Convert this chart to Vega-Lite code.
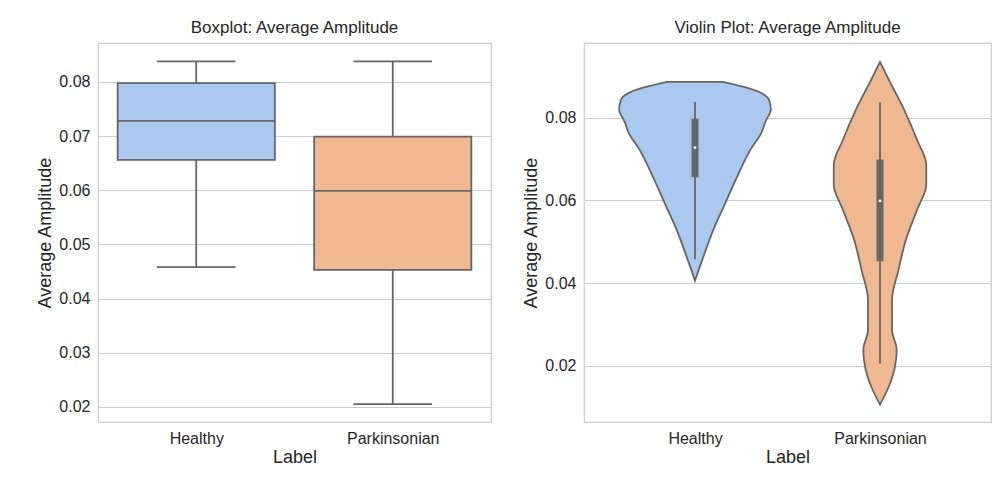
{
  "$schema": "https://vega.github.io/schema/vega-lite/v6.json",
  "padding": {"left": 36, "top": 18, "right": 20, "bottom": 5},
  "spacing": 30,
  "config": {
    "font": "Liberation Sans",
    "view": {"stroke": "#cccccc", "strokeWidth": 1.2},
    "title": {"fontSize": 17, "font": "Liberation Sans", "fontWeight": "normal", "color": "#262626", "offset": 6},
    "axis": {"labelFontSize": 16, "titleFontSize": 18, "titleFontWeight": "normal", "labelColor": "#262626", "titleColor": "#262626", "ticks": false, "domain": false, "gridColor": "#cccccc", "gridWidth": 1.2, "labelPadding": 8}
  },
  "datasets": {
    "stats": [
      {"label": "Healthy", "idx": 0, "min": 0.0458, "q1": 0.0656, "median": 0.0728, "q3": 0.0798, "max": 0.0838},
      {"label": "Parkinsonian", "idx": 1, "min": 0.0205, "q1": 0.0453, "median": 0.0599, "q3": 0.0699, "max": 0.0838}
    ],
    "violin": [
      {"label": "Healthy", "idx": 0, "amp": 0.0406, "w": 0.0},
      {"label": "Healthy", "idx": 0, "amp": 0.0432, "w": 0.02},
      {"label": "Healthy", "idx": 0, "amp": 0.047, "w": 0.05},
      {"label": "Healthy", "idx": 0, "amp": 0.053, "w": 0.1},
      {"label": "Healthy", "idx": 0, "amp": 0.059, "w": 0.16},
      {"label": "Healthy", "idx": 0, "amp": 0.065, "w": 0.22},
      {"label": "Healthy", "idx": 0, "amp": 0.0723, "w": 0.3},
      {"label": "Healthy", "idx": 0, "amp": 0.0765, "w": 0.36},
      {"label": "Healthy", "idx": 0, "amp": 0.079, "w": 0.38},
      {"label": "Healthy", "idx": 0, "amp": 0.082, "w": 0.41},
      {"label": "Healthy", "idx": 0, "amp": 0.0844, "w": 0.4},
      {"label": "Healthy", "idx": 0, "amp": 0.0873, "w": 0.28},
      {"label": "Healthy", "idx": 0, "amp": 0.0887, "w": 0.15},
      {"label": "Parkinsonian", "idx": 1, "amp": 0.0106, "w": 0.0},
      {"label": "Parkinsonian", "idx": 1, "amp": 0.0142, "w": 0.04},
      {"label": "Parkinsonian", "idx": 1, "amp": 0.0178, "w": 0.07},
      {"label": "Parkinsonian", "idx": 1, "amp": 0.0239, "w": 0.09},
      {"label": "Parkinsonian", "idx": 1, "amp": 0.0287, "w": 0.065},
      {"label": "Parkinsonian", "idx": 1, "amp": 0.036, "w": 0.065},
      {"label": "Parkinsonian", "idx": 1, "amp": 0.0432, "w": 0.1},
      {"label": "Parkinsonian", "idx": 1, "amp": 0.0505, "w": 0.14},
      {"label": "Parkinsonian", "idx": 1, "amp": 0.0577, "w": 0.2},
      {"label": "Parkinsonian", "idx": 1, "amp": 0.0638, "w": 0.25},
      {"label": "Parkinsonian", "idx": 1, "amp": 0.0686, "w": 0.25},
      {"label": "Parkinsonian", "idx": 1, "amp": 0.0747, "w": 0.2},
      {"label": "Parkinsonian", "idx": 1, "amp": 0.082, "w": 0.13},
      {"label": "Parkinsonian", "idx": 1, "amp": 0.089, "w": 0.05},
      {"label": "Parkinsonian", "idx": 1, "amp": 0.0935, "w": 0.0}
    ]
  },
  "hconcat": [
    {
      "title": "Boxplot: Average Amplitude",
      "width": 393,
      "height": 379,
      "data": {"name": "stats"},
      "transform": [
        {"calculate": "datum.idx - 0.4", "as": "lo"},
        {"calculate": "datum.idx + 0.4", "as": "hi"},
        {"calculate": "datum.idx - 0.2", "as": "clo"},
        {"calculate": "datum.idx + 0.2", "as": "chi"}
      ],
      "encoding": {
        "x": {"field": "lo", "type": "quantitative", "title": "Label",
          "scale": {"domain": [-0.5, 1.5]},
          "axis": {"grid": false, "values": [0, 1], "labelExpr": "datum.value == 0 ? 'Healthy' : 'Parkinsonian'", "titlePadding": 2}}
      },
      "layer": [
        {"mark": {"type": "rule", "color": "#666666", "strokeWidth": 1.8},
          "encoding": {"x": {"field": "idx", "type": "quantitative"}, "y": {"field": "min", "type": "quantitative", "title": "Average Amplitude", "scale": {"domain": [0.0172, 0.0872], "nice": false, "zero": false}, "axis": {"values": [0.02, 0.03, 0.04, 0.05, 0.06, 0.07, 0.08], "format": ".2f"}}, "y2": {"field": "max"}}},
        {"mark": {"type": "bar", "stroke": "#666666", "strokeWidth": 1.8},
          "encoding": {"x2": {"field": "hi"}, "y": {"field": "q1", "type": "quantitative"}, "y2": {"field": "q3"},
            "color": {"field": "label", "type": "nominal", "legend": null, "scale": {"domain": ["Healthy", "Parkinsonian"], "range": ["#abc9ef", "#f0b890"]}}}},
        {"mark": {"type": "rule", "color": "#666666", "strokeWidth": 1.8},
          "encoding": {"x2": {"field": "hi"}, "y": {"field": "median", "type": "quantitative"}}},
        {"mark": {"type": "rule", "color": "#666666", "strokeWidth": 1.8},
          "encoding": {"x": {"field": "clo", "type": "quantitative"}, "x2": {"field": "chi"}, "y": {"field": "min", "type": "quantitative"}}},
        {"mark": {"type": "rule", "color": "#666666", "strokeWidth": 1.8},
          "encoding": {"x": {"field": "clo", "type": "quantitative"}, "x2": {"field": "chi"}, "y": {"field": "max", "type": "quantitative"}}}
      ]
    },
    {
      "title": "Violin Plot: Average Amplitude",
      "width": 407,
      "height": 379,
      "layer": [
        {
          "data": {"name": "violin"},
          "transform": [
            {"calculate": "datum.idx - datum.w", "as": "left"},
            {"calculate": "datum.idx + datum.w", "as": "right"}
          ],
          "mark": {"type": "area", "orient": "horizontal", "interpolate": "monotone", "stroke": "#666666", "strokeWidth": 1.8},
          "encoding": {
            "detail": {"field": "label"},
            "y": {"field": "amp", "type": "quantitative", "title": "Average Amplitude", "scale": {"domain": [0.0064, 0.0981], "nice": false, "zero": false}, "axis": {"values": [0.02, 0.04, 0.06, 0.08], "format": ".2f"}},
            "x": {"field": "left", "type": "quantitative", "title": "Label", "scale": {"domain": [-0.5, 1.5]},
              "axis": {"grid": false, "values": [0, 1], "labelExpr": "datum.value == 0 ? 'Healthy' : 'Parkinsonian'", "titlePadding": 2}},
            "x2": {"field": "right"},
            "color": {"field": "label", "type": "nominal", "legend": null, "scale": {"domain": ["Healthy", "Parkinsonian"], "range": ["#abc9ef", "#f0b890"]}}
          }
        },
        {
          "data": {"name": "stats"},
          "mark": {"type": "rule", "color": "#666666", "strokeWidth": 1.8},
          "encoding": {"x": {"field": "idx", "type": "quantitative"}, "y": {"field": "min", "type": "quantitative"}, "y2": {"field": "max"}}
        },
        {
          "data": {"name": "stats"},
          "mark": {"type": "rule", "color": "#666666", "strokeWidth": 7},
          "encoding": {"x": {"field": "idx", "type": "quantitative"}, "y": {"field": "q1", "type": "quantitative"}, "y2": {"field": "q3"}}
        },
        {
          "data": {"name": "stats"},
          "mark": {"type": "point", "filled": true, "color": "white", "size": 8, "opacity": 1},
          "encoding": {"x": {"field": "idx", "type": "quantitative"}, "y": {"field": "median", "type": "quantitative"}}
        }
      ]
    }
  ]
}
